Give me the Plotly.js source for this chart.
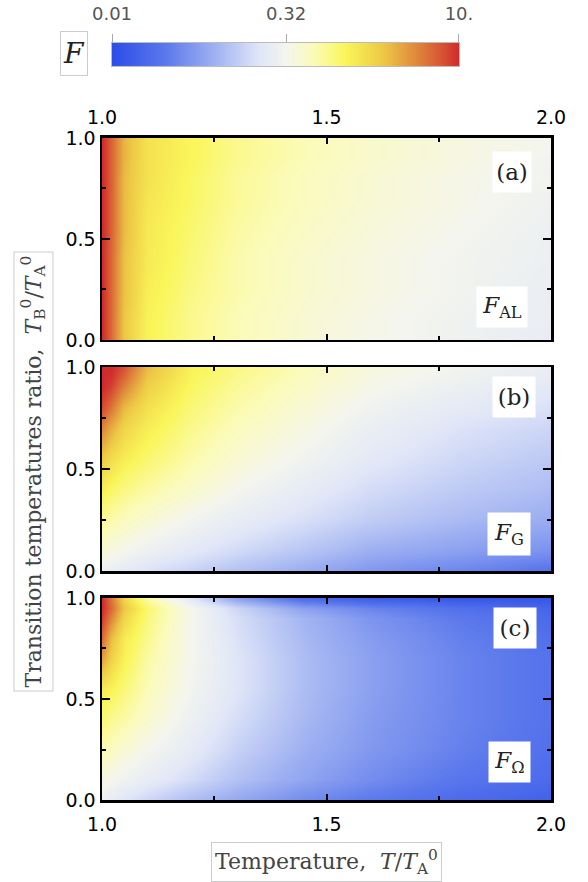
<!DOCTYPE html>
<html>
<head>
<meta charset="utf-8">
<script src="https://cdn.plot.ly/plotly-3.0.1.min.js"></script>
<style>
  body { margin: 0; background: #fff; }
  #plot { width: 588px; height: 882px; }
</style>
</head>
<body>
<div id="plot"></div>
<script>
// grid of the maps
const xGrid = [1.0, 1.02, 1.05, 1.1, 1.2, 1.3, 1.45, 1.6, 1.8, 2.0];
const yGrid = [0, 0.1, 0.25, 0.4, 0.55, 0.7, 0.8, 0.9, 0.95, 1.0];

// log10 F, one row per yGrid value
const logF_AL = [
  [1.0, 0.76, 0.34, 0.04, -0.14, -0.26, -0.38, -0.47, -0.56, -0.65],
  [1.0, 0.76, 0.34, 0.04, -0.14, -0.26, -0.38, -0.47, -0.56, -0.62],
  [1.0, 0.76, 0.37, 0.07, -0.11, -0.23, -0.35, -0.44, -0.53, -0.62],
  [1.0, 0.76, 0.37, 0.10, -0.08, -0.23, -0.35, -0.44, -0.53, -0.59],
  [1.0, 0.79, 0.40, 0.10, -0.05, -0.20, -0.32, -0.41, -0.50, -0.59],
  [1.0, 0.79, 0.40, 0.13, -0.02, -0.17, -0.29, -0.38, -0.47, -0.56],
  [1.0, 0.79, 0.40, 0.16, -0.02, -0.17, -0.29, -0.38, -0.47, -0.53],
  [1.0, 0.79, 0.43, 0.16, 0.01, -0.14, -0.26, -0.35, -0.44, -0.53],
  [1.0, 0.79, 0.43, 0.16, 0.01, -0.14, -0.26, -0.35, -0.44, -0.50],
  [1.0, 0.79, 0.43, 0.16, 0.01, -0.14, -0.26, -0.35, -0.44, -0.50]
];
const logF_G = [
  [-0.59, -0.62, -0.68, -0.77, -0.89, -1.01, -1.16, -1.32, -1.45, -1.60],
  [-0.38, -0.44, -0.50, -0.59, -0.71, -0.83, -0.98, -1.14, -1.25, -1.36],
  [-0.17, -0.23, -0.29, -0.38, -0.53, -0.65, -0.79, -0.93, -1.06, -1.16],
  [0.07, -0.02, -0.11, -0.20, -0.35, -0.50, -0.66, -0.81, -0.94, -1.04],
  [0.31, 0.19, 0.07, -0.05, -0.23, -0.38, -0.54, -0.70, -0.85, -0.95],
  [0.64, 0.46, 0.25, 0.07, -0.14, -0.29, -0.45, -0.61, -0.76, -0.86],
  [0.88, 0.70, 0.40, 0.16, -0.08, -0.23, -0.39, -0.55, -0.68, -0.78],
  [1.0, 0.91, 0.64, 0.28, -0.02, -0.17, -0.33, -0.48, -0.60, -0.70],
  [1.0, 0.97, 0.76, 0.34, 0.01, -0.14, -0.30, -0.45, -0.56, -0.66],
  [1.0, 1.0, 0.85, 0.40, 0.04, -0.11, -0.27, -0.42, -0.53, -0.62]
];
const logF_Omega = [
  [-0.59, -0.65, -0.74, -0.86, -1.04, -1.19, -1.40, -1.55, -1.70, -1.79],
  [-0.44, -0.50, -0.56, -0.65, -0.83, -1.01, -1.22, -1.40, -1.58, -1.70],
  [-0.26, -0.29, -0.38, -0.50, -0.68, -0.89, -1.13, -1.31, -1.49, -1.64],
  [-0.08, -0.14, -0.20, -0.35, -0.59, -0.80, -1.07, -1.28, -1.46, -1.61],
  [0.10, 0.04, -0.08, -0.26, -0.53, -0.74, -1.04, -1.25, -1.46, -1.61],
  [0.52, 0.28, 0.04, -0.20, -0.50, -0.74, -1.04, -1.25, -1.46, -1.61],
  [0.76, 0.40, 0.10, -0.14, -0.50, -0.77, -1.07, -1.28, -1.49, -1.64],
  [0.94, 0.64, 0.25, -0.08, -0.50, -0.80, -1.10, -1.34, -1.55, -1.70],
  [1.0, 0.76, 0.34, -0.05, -0.50, -0.86, -1.25, -1.46, -1.64, -1.76],
  [1.0, 0.70, 0.25, -0.20, -0.74, -1.25, -1.70, -1.85, -1.91, -1.91]
];

// colour bar
const cbarRange = [-2, 1];
const cbarTickVals = [-2, Math.log10(0.32), 1];
const cbarTickText = ["0.01", "0.32", "10."];

const cscale = [
  [0, "#2c4ee8"], [0.15, "#5b78ec"], [0.3, "#a3b4f2"], [0.42, "#e0e6f8"],
  [0.5, "#f4f5ee"], [0.58, "#fbfbb8"], [0.67, "#faf65a"], [0.78, "#edc845"],
  [0.87, "#e08c3c"], [0.94, "#d85a34"], [1, "#d02a2c"]
];

function heat(z, xa, ya) {
  return {
    type: "heatmap", x: xGrid, y: yGrid, z: z,
    xaxis: xa, yaxis: ya,
    zmin: -2, zmax: 1, zsmooth: "best",
    colorscale: cscale, showscale: false, hoverinfo: "skip"
  };
}

const data = [
  heat(logF_AL, "x", "y"),
  heat(logF_G, "x2", "y2"),
  heat(logF_Omega, "x3", "y3"),
  {
    type: "heatmap", x: cbarRange, y: [0, 1], z: [cbarRange, cbarRange],
    xaxis: "x4", yaxis: "y4", zmin: -2, zmax: 1, zsmooth: "best",
    colorscale: cscale, showscale: false, hoverinfo: "skip"
  }
];

const tickfont = { family: "DejaVu Sans", size: 19, color: "black" };

function xax(anchor, side, labels, standoff) {
  return {
    anchor: anchor, side: side, domain: [0, 1], range: [1, 2],
    tick0: 1, dtick: 0.5, tickformat: ".1f",
    ticks: "inside", ticklen: 6, tickwidth: 2, tickcolor: "black",
    minor: { dtick: 0.25, ticks: "inside", ticklen: 4, tickwidth: 2, tickcolor: "black", showgrid: false },
    showline: true, linewidth: 2.5, linecolor: "black", mirror: "allticks",
    showgrid: false, zeroline: false, showticklabels: labels,
    ticklabelstandoff: standoff, tickfont: tickfont
  };
}
function yax(anchor, dom) {
  return {
    anchor: anchor, domain: dom, range: [0, 1],
    tick0: 0, dtick: 0.5, tickformat: ".1f",
    ticks: "inside", ticklen: 8, tickwidth: 2, tickcolor: "black",
    minor: { dtick: 0.25, ticks: "inside", ticklen: 4, tickwidth: 2, tickcolor: "black", showgrid: false },
    showline: true, linewidth: 2.5, linecolor: "black", mirror: "allticks",
    showgrid: false, zeroline: false, ticklabelstandoff: 0, tickfont: tickfont
  };
}

const serif = "DejaVu Serif";
function tag(text, xa, ya, x, y, w, h) {
  return {
    text: text, xref: xa, yref: ya, x: x, y: y, showarrow: false,
    xanchor: "center", yanchor: "middle",
    font: { family: serif, size: 23, color: "#222" },
    bgcolor: "white", width: w, height: h, borderpad: 0
  };
}

const layout = {
  width: 588, height: 882,
  margin: { l: 102, r: 37, t: 40, b: 82 },
  paper_bgcolor: "white", plot_bgcolor: "white",
  showlegend: false,
  font: { family: "DejaVu Sans", size: 18, color: "black" },
  xaxis: xax("y", "top", true, 4),
  xaxis2: xax("y2", "bottom", false, 6),
  xaxis3: xax("y3", "bottom", true, 6),
  yaxis: yax("x", [0.6053, 0.8711]),
  yaxis2: yax("x2", [0.3013, 0.5697]),
  yaxis3: yax("x3", [0, 0.2658]),
  xaxis4: {
    anchor: "y4", side: "top", domain: [0.0223, 0.795], range: cbarRange,
    tickvals: cbarTickVals, ticktext: cbarTickText,
    ticks: "outside", ticklen: 8, tickwidth: 1, tickcolor: "#aaa",
    showline: true, linewidth: 1, linecolor: "#bbb", mirror: true,
    showgrid: false, zeroline: false, ticklabelstandoff: 7,
    tickfont: { family: "DejaVu Sans", size: 18, color: "#555" }
  },
  yaxis4: {
    anchor: "x4", domain: [0.9658, 0.9961], range: [0, 1],
    showticklabels: false, ticks: "", showline: true, linewidth: 1,
    linecolor: "#bbb", mirror: true, showgrid: false, zeroline: false
  },
  annotations: [
    tag("(a)", "x", "y", 1.913, 0.832, 38, 40),
    tag("<i>F</i><sub>AL</sub>", "x", "y", 1.891, 0.163, 50, 40),
    tag("(b)", "x2", "y2", 1.918, 0.853, 42, 40),
    tag("<i>F</i><sub>G</sub>", "x2", "y2", 1.906, 0.181, 42, 42),
    tag("(c)", "x3", "y3", 1.92, 0.851, 42, 40),
    tag("<i>F</i><sub>Ω</sub>", "x3", "y3", 1.908, 0.188, 41, 40),
    {
      text: "<i>F</i>", xref: "paper", yref: "paper", x: -0.0624, y: 0.9822,
      xanchor: "center", yanchor: "middle",
      showarrow: false, font: { family: serif, size: 28, color: "#222" },
      bordercolor: "#ccc", borderwidth: 1, borderpad: 0, width: 26, height: 43
    },
    {
      text: "Temperature,  <i>T</i>/<i>T</i><sub>A</sub><sup>0</sup>",
      xref: "paper", yref: "paper", x: 0.5, y: -0.0816, xanchor: "center", yanchor: "middle",
      showarrow: false, font: { family: serif, size: 22, color: "#444" },
      bordercolor: "#ccc", borderwidth: 1, borderpad: 3
    },
    {
      text: "Transition temperatures ratio,  <i>T</i><sub>B</sub><sup>0</sup>/<i>T</i><sub>A</sub><sup>0</sup>",
      xref: "paper", yref: "paper", x: -0.1537, y: 0.4322, xanchor: "center", yanchor: "middle",
      textangle: -90, showarrow: false, font: { family: serif, size: 22, color: "#444" },
      bordercolor: "#ccc", borderwidth: 1, borderpad: 3
    }
  ]
};

Plotly.newPlot("plot", data, layout, { staticPlot: true });
</script>
</body>
</html>
